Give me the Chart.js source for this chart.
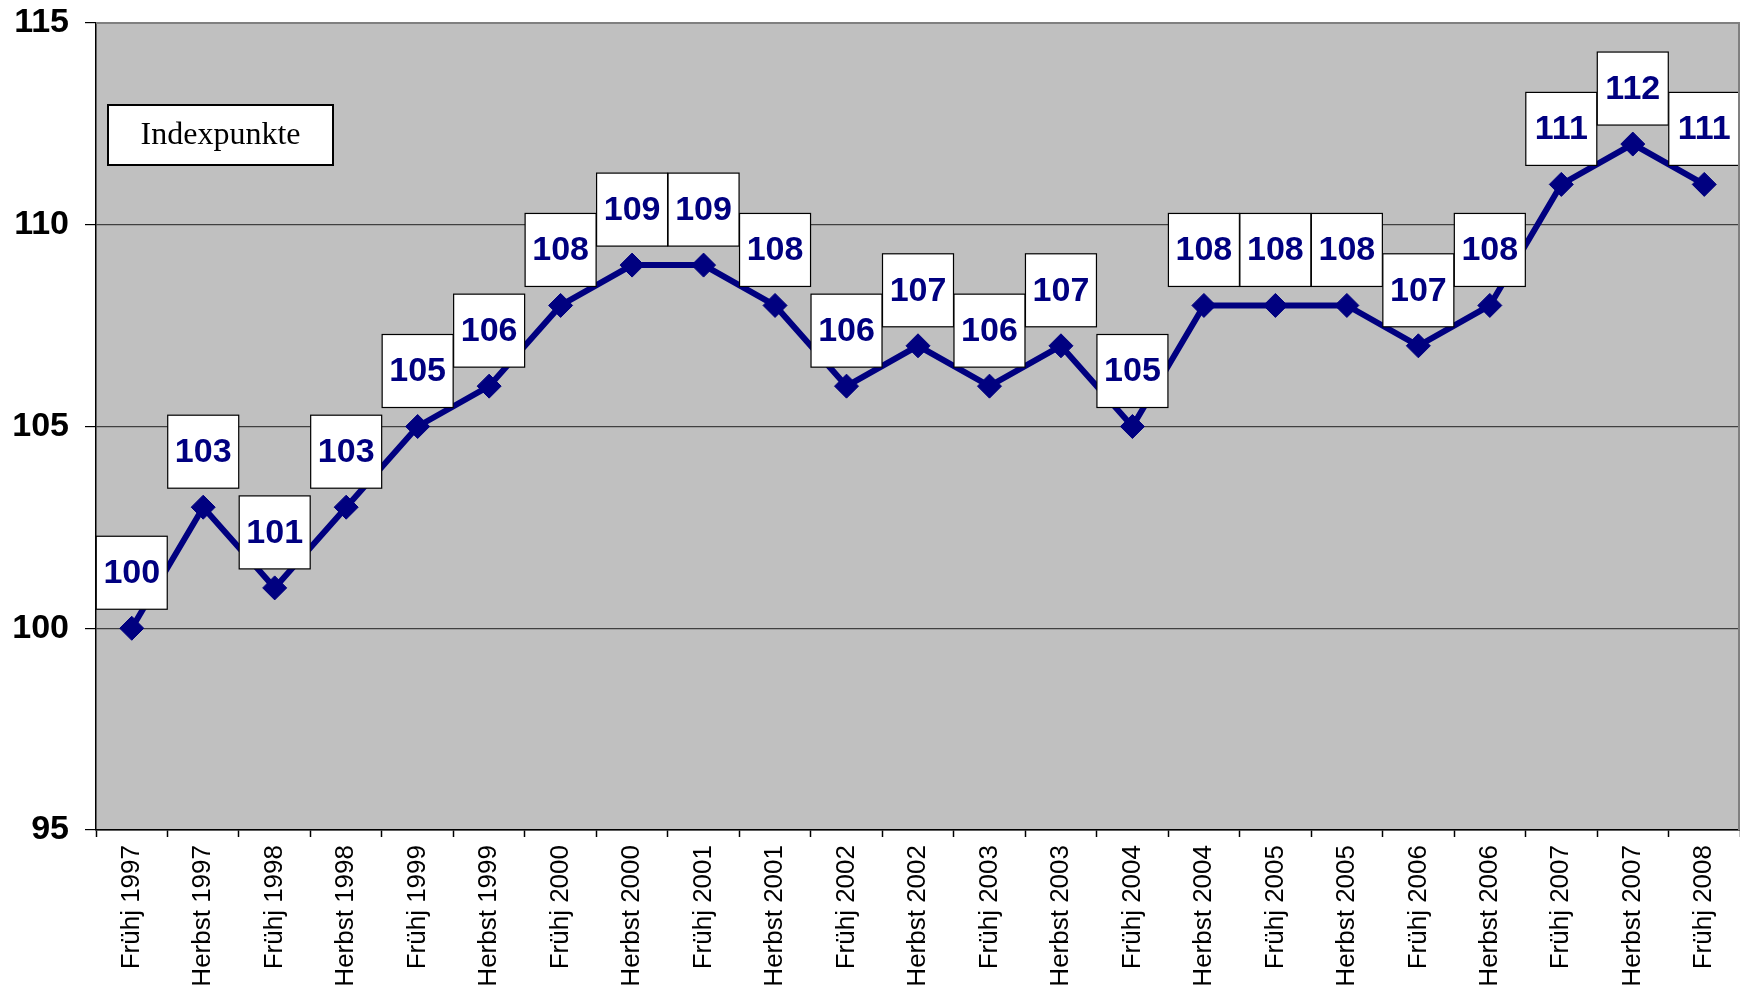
<!DOCTYPE html>
<html>
<head>
<meta charset="utf-8">
<script src="https://cdn.jsdelivr.net/npm/chart.js@4/dist/chart.umd.min.js"></script>
<style>
  body { margin: 0; background: #fff; overflow: hidden; }
  #wrap { width: 1740px; height: 990px; position: relative; }
</style>
</head>
<body>
<div id="wrap"><canvas id="chart"></canvas></div>
<script>
// Halbjahre (Kategorien)
const periods = [
  'Frühj 1997', 'Herbst 1997', 'Frühj 1998', 'Herbst 1998', 'Frühj 1999', 'Herbst 1999',
  'Frühj 2000', 'Herbst 2000', 'Frühj 2001', 'Herbst 2001', 'Frühj 2002', 'Herbst 2002',
  'Frühj 2003', 'Herbst 2003', 'Frühj 2004', 'Herbst 2004', 'Frühj 2005', 'Herbst 2005',
  'Frühj 2006', 'Herbst 2006', 'Frühj 2007', 'Herbst 2007', 'Frühj 2008'
];
// Indexwerte
const indexValues = [100, 103, 101, 103, 105, 106, 108, 109, 109, 108, 106, 107, 106, 107, 105, 108, 108, 108, 107, 108, 111, 112, 111];
const yTicks = [95, 100, 105, 110, 115];
const legendText = 'Indexpunkte';

const NAVY = '#000080';
const FONT = '"Liberation Sans", Arial, sans-serif';

// Hintergrund der Zeichenfläche + Rahmen
const plotBg = {
  id: 'plotBg',
  beforeDraw(chart) {
    const { ctx, chartArea: a } = chart;
    ctx.save();
    ctx.fillStyle = '#c0c0c0';
    ctx.fillRect(a.left, a.top, a.right - a.left, a.bottom - a.top);
    ctx.restore();
  },
  afterDraw(chart) {
    const { ctx, chartArea: a } = chart;
    ctx.save();
    ctx.strokeStyle = '#808080';
    ctx.lineWidth = 2;
    ctx.beginPath();
    ctx.moveTo(a.left, a.top);
    ctx.lineTo(a.right - 1, a.top);
    ctx.lineTo(a.right - 1, a.bottom);
    ctx.stroke();
    ctx.restore();
  }
};

// Datenbeschriftungen in weißen Kästen + "Indexpunkte"-Kasten
const valueBoxes = {
  id: 'valueBoxes',
  afterDatasetsDraw(chart) {
    const { ctx, chartArea: a } = chart;
    const meta = chart.getDatasetMeta(0);
    ctx.save();
    ctx.font = 'bold 34px ' + FONT;
    ctx.textAlign = 'center';
    ctx.textBaseline = 'middle';
    meta.data.forEach((pt, i) => {
      const txt = String(indexValues[i]);
      const w = 71;
      const h = 73;
      const x = pt.x - w / 2;
      const y = pt.y - 19 - h;
      ctx.fillStyle = '#fff';
      ctx.fillRect(x, y, w, h);
      ctx.strokeStyle = '#000';
      ctx.lineWidth = 1.2;
      ctx.strokeRect(x, y, w, h);
      ctx.fillStyle = NAVY;
      ctx.fillText(txt, pt.x, y + h / 2 + 1);
    });

    // Legendenkasten
    const lx = a.left + 12, ly = 105, lw = 225, lh = 60;
    ctx.fillStyle = '#fff';
    ctx.fillRect(lx, ly, lw, lh);
    ctx.strokeStyle = '#000';
    ctx.lineWidth = 2;
    ctx.strokeRect(lx, ly, lw, lh);
    ctx.fillStyle = '#000';
    ctx.font = '32px "Liberation Serif", "Times New Roman", serif';
    ctx.fillText(legendText, lx + lw / 2, ly + lh / 2 + 1);
    ctx.restore();
  }
};

new Chart(document.getElementById('chart'), {
  type: 'line',
  data: {
    labels: periods,
    datasets: [{
      label: legendText,
      data: indexValues,
      borderColor: NAVY,
      backgroundColor: NAVY,
      borderWidth: 6,
      tension: 0,
      pointStyle: 'rectRot',
      pointRadius: 12,
      pointBackgroundColor: NAVY,
      pointBorderColor: NAVY,
      pointBorderWidth: 1,
    }]
  },
  options: {
    responsive: true,
    maintainAspectRatio: false,
    animation: false,
    layout: { autoPadding: false, padding: { top: 23, right: 0, left: 0, bottom: 0 } },
    plugins: {
      legend: { display: false },
      tooltip: { enabled: false }
    },
    scales: {
      x: {
        offset: true,
        grid: {
          offset: true,
          drawOnChartArea: false,
          drawTicks: true,
          tickLength: 7,
          tickColor: '#000',
          tickWidth: 1.5
        },
        border: { color: '#000', width: 1.5 },
        ticks: {
          autoSkip: false,
          minRotation: 90,
          maxRotation: 90,
          padding: 8,
          color: '#000',
          font: { family: FONT, size: 26 }
        },
        afterFit(scale) {
          scale.height = 160;
          scale.paddingLeft = 0;
          scale.paddingRight = 0;
        }
      },
      y: {
        min: 95,
        max: 115,
        afterBuildTicks(scale) { scale.ticks = yTicks.map(v => ({ value: v })); },
        grid: {
          color: ctx => ctx.tick.value === 115 ? '#808080' : (ctx.tick.value === 95 ? '#000' : '#404040'),
          lineWidth: 1.2,
          tickLength: 11,
          tickColor: '#000'
        },
        border: { color: '#000', width: 1.5 },
        ticks: {
          padding: 16,
          color: '#000',
          font: { family: FONT, size: 34, weight: 'bold' }
        },
        afterFit(scale) {
          scale.width = 96;
          scale.paddingTop = 0;
          scale.paddingBottom = 0;
        }
      }
    }
  },
  plugins: [plotBg, valueBoxes]
});
</script>
</body>
</html>
